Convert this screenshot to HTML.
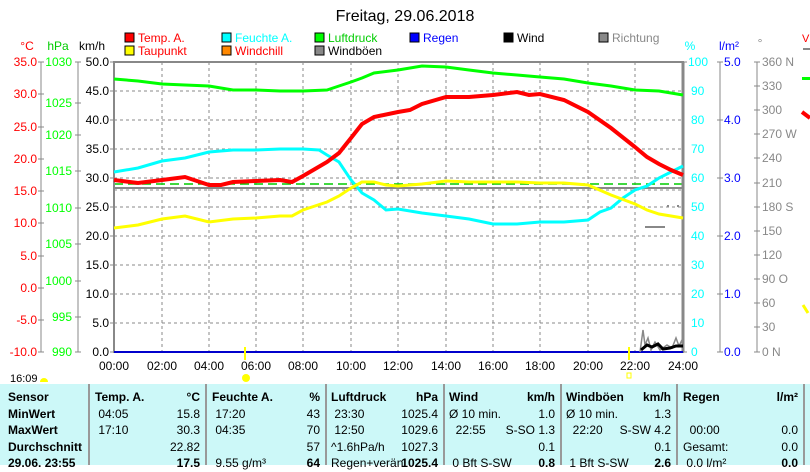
<!DOCTYPE html>
<html><head><meta charset="utf-8"><style>
body{margin:0;width:810px;height:465px;overflow:hidden;background:#fff;font-family:"Liberation Sans",sans-serif;}
svg{position:absolute;left:0;top:0}
text{font-family:"Liberation Sans",sans-serif;font-size:12px}
.tbl{position:absolute;left:0;top:384px;width:810px;height:81px;background:#ccf8f8}
.c{position:absolute;top:0;height:81px;border-left:2px solid #999}
.t{position:absolute;font-size:12px;line-height:16.5px;white-space:nowrap;color:#000}
.b{font-weight:bold}
</style></head><body>
<svg width="810" height="465" viewBox="0 0 810 465">
<text x="405" y="21" text-anchor="middle" style="font-size:16px">Freitag, 29.06.2018</text>
<g style="font-size:11px">
<rect x="125" y="33" width="9" height="9" fill="#f00" stroke="#000"/><text x="138" y="42" fill="#f00">Temp. A.</text>
<rect x="125" y="46" width="9" height="9" fill="#ff0" stroke="#000"/><text x="138" y="55" fill="#f00">Taupunkt</text>
<rect x="222" y="33" width="9" height="9" fill="#0ff" stroke="#000"/><text x="235" y="42" fill="#0ff">Feuchte A.</text>
<rect x="222" y="46" width="9" height="9" fill="#f80" stroke="#000"/><text x="235" y="55" fill="#f00">Windchill</text>
<rect x="315" y="33" width="9" height="9" fill="#0f0" stroke="#000"/><text x="328" y="42" fill="#0c0">Luftdruck</text>
<rect x="315" y="46" width="9" height="9" fill="#888" stroke="#000"/><text x="328" y="55">Windböen</text>
<rect x="410" y="33" width="9" height="9" fill="#00f" stroke="#000"/><text x="423" y="42" fill="#00f">Regen</text>
<rect x="504" y="33" width="9" height="9" fill="#000" stroke="#000"/><text x="517" y="42">Wind</text>
<rect x="599" y="33" width="9" height="9" fill="#888" stroke="#000"/><text x="612" y="42" fill="#888">Richtung</text>
</g>
<text x="27" y="50" fill="#f00" text-anchor="middle">°C</text>
<text x="58" y="50" fill="#0c0" text-anchor="middle">hPa</text>
<text x="92" y="50" text-anchor="middle">km/h</text>
<text x="690" y="50" fill="#0ff" text-anchor="middle">%</text>
<text x="729" y="50" fill="#00f" text-anchor="middle">l/m²</text>
<text x="760" y="47" fill="#888" text-anchor="middle">°</text>
<g stroke="#888" stroke-dasharray="3,3" stroke-width="1">
<line x1="114" y1="91" x2="683" y2="91"/><line x1="114" y1="120" x2="683" y2="120"/><line x1="114" y1="149" x2="683" y2="149"/><line x1="114" y1="178" x2="683" y2="178"/><line x1="114" y1="207" x2="683" y2="207"/><line x1="114" y1="236" x2="683" y2="236"/><line x1="114" y1="265" x2="683" y2="265"/><line x1="114" y1="294" x2="683" y2="294"/><line x1="114" y1="323" x2="683" y2="323"/>
<line x1="162" y1="62" x2="162" y2="352"/><line x1="209" y1="62" x2="209" y2="352"/><line x1="256" y1="62" x2="256" y2="352"/><line x1="303" y1="62" x2="303" y2="352"/><line x1="351" y1="62" x2="351" y2="352"/><line x1="398" y1="62" x2="398" y2="352"/><line x1="446" y1="62" x2="446" y2="352"/><line x1="493" y1="62" x2="493" y2="352"/><line x1="540" y1="62" x2="540" y2="352"/><line x1="588" y1="62" x2="588" y2="352"/><line x1="635" y1="62" x2="635" y2="352"/>
<line x1="114" y1="190" x2="683" y2="190"/>
</g>
<line x1="114" y1="188" x2="683" y2="188" stroke="#888" stroke-width="2"/>
<line x1="114" y1="184" x2="683" y2="184" stroke="#0c0" stroke-dasharray="9,5" stroke-width="1.5"/>
<rect x="114" y="62" width="569" height="290" fill="none" stroke="#888" stroke-width="2"/>
<line x1="683" y1="62" x2="683" y2="352" stroke="#888" stroke-width="3"/>
<line x1="114" y1="352" x2="683" y2="352" stroke="#00c" stroke-width="2"/>
<g stroke="#888"><line x1="41" y1="62" x2="41" y2="352"/><line x1="78" y1="62" x2="78" y2="352"/>
<path d="M38 62h6M38 94h6M38 127h6M38 159h6M38 191h6M38 223h6M38 256h6M38 288h6M38 320h6M38 352h6"/>
<path d="M75 62h6M75 103h6M75 135h6M75 171h6M75 208h6M75 244h6M75 281h6M75 317h6M75 352h6"/>
<path d="M110 62h4M110 91h4M110 120h4M110 149h4M110 178h4M110 207h4M110 236h4M110 265h4M110 294h4M110 323h4M110 352h4"/>
<path d="M683 62h4M683 352h4"/>
<line x1="720" y1="62" x2="720" y2="352"/><line x1="757" y1="62" x2="757" y2="352"/>
<path d="M717 62h6M717 120h6M717 178h6M717 236h6M717 294h6M717 352h6"/>
<path d="M754 62h6M754 86h6M754 110h6M754 134h6M754 158h6M754 183h6M754 207h6M754 231h6M754 255h6M754 279h6M754 303h6M754 327h6M754 352h6"/>
</g>
<g fill="#f00" text-anchor="end">
<text x="37" y="66">35.0</text><text x="37" y="98">30.0</text><text x="37" y="131">25.0</text><text x="37" y="163">20.0</text><text x="37" y="195">15.0</text><text x="37" y="227">10.0</text><text x="37" y="260">5.0</text><text x="37" y="292">0.0</text><text x="37" y="324">-5.0</text><text x="37" y="356">-10.0</text>
</g>
<g fill="#0f0" text-anchor="end">
<text x="72" y="66">1030</text><text x="72" y="107">1025</text><text x="72" y="139">1020</text><text x="72" y="175">1015</text><text x="72" y="212">1010</text><text x="72" y="248">1005</text><text x="72" y="285">1000</text><text x="72" y="321">995</text><text x="72" y="356">990</text>
</g>
<g text-anchor="end">
<text x="109" y="66">50.0</text><text x="109" y="95">45.0</text><text x="109" y="124">40.0</text><text x="109" y="153">35.0</text><text x="109" y="182">30.0</text><text x="109" y="211">25.0</text><text x="109" y="240">20.0</text><text x="109" y="269">15.0</text><text x="109" y="298">10.0</text><text x="109" y="327">5.0</text><text x="109" y="356">0.0</text>
</g>
<g fill="#0ff"><text x="688" y="66">100</text><text x="691" y="95">90</text><text x="691" y="124">80</text><text x="691" y="153">70</text><text x="691" y="182">60</text><text x="691" y="211">50</text><text x="691" y="240">40</text><text x="691" y="269">30</text><text x="691" y="298">20</text><text x="691" y="327">10</text><text x="691" y="356">0</text></g>
<g fill="#00f"><text x="724" y="66">5.0</text><text x="724" y="124">4.0</text><text x="724" y="182">3.0</text><text x="724" y="240">2.0</text><text x="724" y="298">1.0</text><text x="724" y="356">0.0</text></g>
<g fill="#888" style="font-size:11px"><text x="762" y="66">360 N</text><text x="762" y="90">330</text><text x="762" y="114">300</text><text x="762" y="138">270 W</text><text x="762" y="162">240</text><text x="762" y="187">210</text><text x="762" y="211">180 S</text><text x="762" y="235">150</text><text x="762" y="259">120</text><text x="762" y="283">90 O</text><text x="762" y="307">60</text><text x="762" y="331">30</text><text x="762" y="356">0 N</text></g>
<g text-anchor="middle"><text x="114" y="370">00:00</text><text x="162" y="370">02:00</text><text x="209" y="370">04:00</text><text x="256" y="370">06:00</text><text x="303" y="370">08:00</text><text x="351" y="370">10:00</text><text x="398" y="370">12:00</text><text x="446" y="370">14:00</text><text x="493" y="370">16:00</text><text x="540" y="370">18:00</text><text x="588" y="370">20:00</text><text x="635" y="370">22:00</text><text x="683" y="370">24:00</text></g>
<line x1="245" y1="347" x2="245" y2="360" stroke="#ff0" stroke-width="2"/>
<line x1="629" y1="347" x2="629" y2="360" stroke="#ff0" stroke-width="2"/>
<circle cx="246" cy="378" r="4" fill="#ff0"/>
<rect x="627" y="373" width="4" height="5" fill="none" stroke="#ff0"/>
<text x="10" y="382" style="font-size:11px">16:09</text><path d="M40 382 a4 4 0 0 1 8 0z" fill="#ff0"/>
<polyline fill="none" stroke="#0f0" stroke-width="3" points="114,79 138,81 162,84 185,85 209,86 233,90 256,90 280,91 303,91 327,90 339,86 351,82 362,78 374,73 398,70 422,66 446,67 469,70 493,73 517,75 540,77 564,79 588,83 611,86 635,90 659,91 683,95"/>
<polyline fill="none" stroke="#0ff" stroke-width="3" points="114,172 138,168 162,161 185,158 209,152 233,150 256,150 280,149 303,149 319,150 327,155 339,162 351,180 362,193 374,200 386,210 398,209 422,213 446,216 469,219 493,224 517,224 540,222 564,222 588,220 600,212 611,208 623,198 635,190 647,186 659,178 671,172 683,166"/>
<polyline fill="none" stroke="#ff0" stroke-width="3" points="114,228 138,225 162,219 185,216 209,222 233,219 256,218 280,216 292,216 303,210 327,202 339,196 351,188 362,182 374,182 386,185 398,186 422,184 446,181 469,182 493,182 517,182 540,183 564,183 588,185 611,195 635,204 647,210 659,214 683,218"/>
<polyline fill="none" stroke="#f00" stroke-width="4" points="114,180 138,183 162,180 185,177 209,185 221,185 233,182 256,181 280,180 292,182 303,176 315,169 327,162 339,153 351,138 362,124 374,117 398,112 410,110 422,104 446,97 469,97 493,95 517,92 529,95 540,94 564,100 588,112 611,128 635,147 647,157 659,164 671,170 683,175"/>
<polyline fill="none" stroke="#888" stroke-width="1.5" points="640,352 643,330 645,345 648,338 651,350 655,342 660,350 667,345 672,348 676,338 679,346 682,340"/>
<polyline fill="none" stroke="#000" stroke-width="3" points="641,350 647,345 652,347 658,344 663,349 670,348 676,346 683,346"/>
<g fill="#888"><rect x="645" y="226" width="20" height="2"/><rect x="667" y="205" width="2" height="2"/><rect x="677" y="205" width="2" height="2"/></g>
<text x="802" y="42" fill="#f00" style="font-size:11px">V</text>
<rect x="803" y="48" width="7" height="2" fill="#888"/>
<rect x="802" y="77" width="8" height="3" fill="#0f0"/>
<path d="M802 112 l8 6" stroke="#f00" stroke-width="4"/>
<path d="M803 305 l5 8" stroke="#ff0" stroke-width="3"/>
</svg>
<div class="tbl">
<div class="c" style="left:88px"></div><div class="c" style="left:205px"></div><div class="c" style="left:325px"></div><div class="c" style="left:443px"></div><div class="c" style="left:560px"></div><div class="c" style="left:676px"></div><div class="c" style="left:803px"></div>
<div class="t b" style="left:8px;top:5px">Sensor<br>MinWert<br>MaxWert<br>Durchschnitt<br>29.06. 23:55</div>
<div class="t" style="left:95px;top:5px"><b>Temp. A.</b><br>&nbsp;04:05<br>&nbsp;17:10</div>
<div class="t" style="left:150px;top:5px;width:50px;text-align:right"><b>°C</b><br>15.8<br>30.3<br>22.82<br><b>17.5</b></div>
<div class="t" style="left:212px;top:5px"><b>Feuchte A.</b><br>&nbsp;17:20<br>&nbsp;04:35<br><br>&nbsp;9.55 g/m³</div>
<div class="t" style="left:280px;top:5px;width:40px;text-align:right"><b>%</b><br>43<br>70<br>57<br><b>64</b></div>
<div class="t" style="left:331px;top:5px"><b>Luftdruck</b><br>&nbsp;23:30<br>&nbsp;12:50<br>^1.6hPa/h<br>Regen+verän</div>
<div class="t" style="left:390px;top:5px;width:48px;text-align:right"><b>hPa</b><br>1025.4<br>1029.6<br>1027.3<br><b>1025.4</b></div>
<div class="t" style="left:449px;top:5px"><b>Wind</b><br>Ø 10 min.<br>&nbsp;&nbsp;22:55<br><br>&nbsp;0 Bft S-SW</div>
<div class="t" style="left:500px;top:5px;width:55px;text-align:right"><b>km/h</b><br>1.0<br>S-SO 1.3<br>0.1<br><b>0.8</b></div>
<div class="t" style="left:566px;top:5px"><b>Windböen</b><br>Ø 10 min.<br>&nbsp;&nbsp;22:20<br><br>&nbsp;1 Bft S-SW</div>
<div class="t" style="left:610px;top:5px;width:61px;text-align:right"><b>km/h</b><br>1.3<br>S-SW 4.2<br>0.1<br><b>2.6</b></div>
<div class="t" style="left:683px;top:5px"><b>Regen</b><br><br>&nbsp;&nbsp;00:00<br>Gesamt:<br>&nbsp;0.0 l/m²</div>
<div class="t" style="left:740px;top:5px;width:58px;text-align:right"><b>l/m²</b><br><br>0.0<br>0.0<br><b>0.0</b></div>
</div>
</body></html>
